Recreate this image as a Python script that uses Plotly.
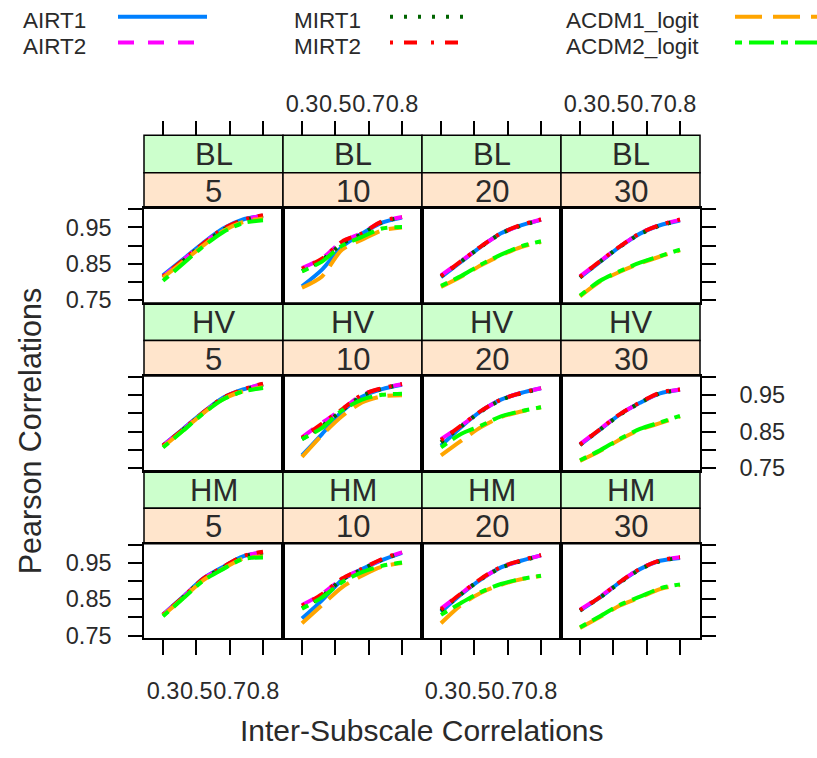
import plotly.graph_objects as go

# ---------------- data ----------------
x_corr = [0.3, 0.4, 0.5, 0.6, 0.7, 0.8]
series_names = ["AIRT1", "AIRT2", "MIRT1", "MIRT2", "ACDM1_logit", "ACDM2_logit"]
methods = ["BL", "HV", "HM"]
lengths = ["5", "10", "20", "30"]
x_tick_labels = ["0.3", "0.5", "0.7", "0.8"]
y_tick_vals = [0.75, 0.80, 0.85, 0.90, 0.95, 1.00]
y_tick_labels = ["0.75", "", "0.85", "", "0.95", ""]

BL_5 = [[0.818, 0.862, 0.907, 0.947, 0.972, 0.982],
        [0.815, 0.860, 0.905, 0.945, 0.970, 0.983],
        [0.812, 0.858, 0.903, 0.944, 0.969, 0.981],
        [0.815, 0.860, 0.905, 0.946, 0.971, 0.984],
        [0.812, 0.855, 0.900, 0.940, 0.965, 0.975],
        [0.803, 0.850, 0.897, 0.937, 0.962, 0.970]]
BL_10 = [[0.788, 0.834, 0.897, 0.933, 0.963, 0.977],
         [0.838, 0.865, 0.911, 0.935, 0.966, 0.979],
         [0.830, 0.860, 0.905, 0.932, 0.964, 0.978],
         [0.836, 0.864, 0.911, 0.934, 0.967, 0.979],
         [0.784, 0.815, 0.889, 0.916, 0.942, 0.950],
         [0.829, 0.856, 0.900, 0.924, 0.947, 0.951]]
BL_20 = [[0.813, 0.855, 0.897, 0.934, 0.956, 0.971],
         [0.818, 0.857, 0.898, 0.933, 0.956, 0.972],
         [0.815, 0.856, 0.897, 0.933, 0.955, 0.970],
         [0.816, 0.857, 0.898, 0.934, 0.957, 0.972],
         [0.786, 0.814, 0.846, 0.873, 0.896, 0.910],
         [0.789, 0.816, 0.848, 0.875, 0.898, 0.912]]
BL_30 = [[0.812, 0.855, 0.897, 0.933, 0.956, 0.969],
         [0.815, 0.857, 0.898, 0.934, 0.957, 0.971],
         [0.812, 0.856, 0.897, 0.932, 0.955, 0.969],
         [0.814, 0.857, 0.898, 0.934, 0.957, 0.972],
         [0.760, 0.801, 0.828, 0.851, 0.870, 0.887],
         [0.762, 0.803, 0.830, 0.853, 0.871, 0.889]]
HV_5 = [[0.812, 0.857, 0.903, 0.943, 0.966, 0.980],
        [0.811, 0.856, 0.902, 0.942, 0.965, 0.981],
        [0.810, 0.855, 0.901, 0.941, 0.964, 0.979],
        [0.811, 0.856, 0.902, 0.943, 0.966, 0.982],
        [0.808, 0.853, 0.900, 0.939, 0.961, 0.972],
        [0.806, 0.852, 0.899, 0.938, 0.960, 0.970]]
HV_10 = [[0.784, 0.843, 0.905, 0.946, 0.967, 0.979],
         [0.834, 0.874, 0.911, 0.951, 0.969, 0.980],
         [0.829, 0.865, 0.908, 0.948, 0.968, 0.979],
         [0.832, 0.872, 0.911, 0.951, 0.969, 0.981],
         [0.780, 0.840, 0.892, 0.930, 0.947, 0.950],
         [0.829, 0.860, 0.908, 0.938, 0.951, 0.954]]
HV_20 = [[0.811, 0.862, 0.906, 0.938, 0.956, 0.969],
         [0.829, 0.866, 0.906, 0.938, 0.956, 0.969],
         [0.820, 0.864, 0.905, 0.937, 0.955, 0.968],
         [0.826, 0.866, 0.907, 0.938, 0.956, 0.970],
         [0.784, 0.824, 0.862, 0.890, 0.905, 0.917],
         [0.806, 0.843, 0.866, 0.892, 0.906, 0.917]]
HV_30 = [[0.813, 0.855, 0.897, 0.929, 0.955, 0.965],
         [0.815, 0.857, 0.898, 0.930, 0.956, 0.966],
         [0.813, 0.855, 0.896, 0.929, 0.955, 0.964],
         [0.814, 0.856, 0.898, 0.930, 0.957, 0.966],
         [0.769, 0.796, 0.828, 0.855, 0.873, 0.891],
         [0.771, 0.798, 0.830, 0.857, 0.875, 0.893]]
HM_5 = [[0.808, 0.857, 0.907, 0.939, 0.968, 0.979],
        [0.807, 0.856, 0.906, 0.938, 0.968, 0.980],
        [0.806, 0.855, 0.905, 0.937, 0.967, 0.978],
        [0.807, 0.856, 0.906, 0.939, 0.969, 0.981],
        [0.805, 0.853, 0.902, 0.934, 0.962, 0.968],
        [0.803, 0.852, 0.901, 0.933, 0.961, 0.965]]
HM_10 = [[0.797, 0.847, 0.903, 0.933, 0.958, 0.978],
         [0.834, 0.865, 0.906, 0.933, 0.960, 0.979],
         [0.826, 0.858, 0.904, 0.932, 0.959, 0.978],
         [0.832, 0.864, 0.907, 0.934, 0.961, 0.980],
         [0.784, 0.834, 0.883, 0.915, 0.940, 0.950],
         [0.824, 0.855, 0.897, 0.925, 0.942, 0.951]]
HM_20 = [[0.815, 0.863, 0.905, 0.938, 0.956, 0.971],
         [0.824, 0.866, 0.906, 0.938, 0.956, 0.971],
         [0.818, 0.864, 0.905, 0.937, 0.955, 0.970],
         [0.822, 0.866, 0.907, 0.939, 0.957, 0.972],
         [0.784, 0.834, 0.868, 0.890, 0.905, 0.914],
         [0.807, 0.840, 0.870, 0.892, 0.906, 0.915]]
HM_30 = [[0.819, 0.855, 0.897, 0.933, 0.956, 0.964],
         [0.821, 0.857, 0.898, 0.934, 0.957, 0.966],
         [0.819, 0.855, 0.896, 0.932, 0.955, 0.964],
         [0.820, 0.856, 0.898, 0.934, 0.957, 0.966],
         [0.771, 0.801, 0.833, 0.855, 0.878, 0.889],
         [0.773, 0.803, 0.835, 0.857, 0.880, 0.891]]

panels = [[BL_5, BL_10, BL_20, BL_30],
          [HV_5, HV_10, HV_20, HV_30],
          [HM_5, HM_10, HM_20, HM_30]]

# ---------------- styles ----------------
colors = ["#0080FF", "#FF00FF", "#006400", "#FF0000", "#FFA500", "#00FF00"]
dashes = ["solid", "14px,12px", "3px,10px", "3px,9px,13px,9px", "26px,10px", "7px,7px,24px,7px"]
leg_dashes = ["solid", "16px,14px", "3px,11px", "3px,11px,13px,14px", "27px,11px", "7px,7px,25px,7px"]

W, H = 817, 758
FONT = "Liberation Sans, Arial, sans-serif"
TXT = "#2a2a2a"
TICK_SIZE = 23.5
STRIP_SIZE = 31
TITLE_SIZE = 30.5
KEY_SIZE = 22.5


def px(v):
    return v / W


def py(v):
    return 1 - v / H


col_edges = [(144, 283), (283, 422), (422, 561), (561, 700)]
row_top = [137 + 170 * r for r in range(3)]
STRIP1, STRIP2, ROWH = 38, 74, 170
XR = [0.205, 0.9]
YR = [0.742, 1.003]
x_tick_vals = [0.3, 0.3 + 0.5 / 3, 0.3 + 1.0 / 3, 0.8]

fig = go.Figure()
layout = dict(width=W, height=H, margin=dict(l=0, r=0, t=0, b=0),
              paper_bgcolor="white", plot_bgcolor="white", showlegend=False,
              font=dict(family=FONT, color=TXT))
shapes, annotations = [], []

for r in range(3):
    for c in range(4):
        k = r * 4 + c + 1
        xs = "" if k == 1 else str(k)
        x0, x1 = col_edges[c]
        top = row_top[r]
        for s in range(6):
            fig.add_trace(go.Scatter(x=x_corr, y=panels[r][c][s], mode="lines",
                                     line=dict(color=colors[s], width=4, dash=dashes[s],
                                               shape="spline", smoothing=0.8),
                                     xaxis="x" + xs, yaxis="y" + xs, name=series_names[s]))
        xa = dict(domain=[px(x0), px(x1)], anchor="y" + xs, range=XR, showgrid=False,
                  zeroline=False, showline=True, mirror=True, linecolor="black", linewidth=1.5,
                  tickvals=x_tick_vals, ticktext=x_tick_labels, tickangle=0,
                  tickfont=dict(size=TICK_SIZE, family=FONT, color=TXT))
        if r == 2:
            xa.update(ticks="outside", ticklen=15, tickwidth=1.5, tickcolor="black",
                      showticklabels=(c % 2 == 0), ticklabelstandoff=16)
        else:
            xa.update(ticks="", showticklabels=False)
        ya = dict(domain=[py(top + ROWH), py(top + STRIP2)], anchor="x" + xs, range=YR,
                  showgrid=False, zeroline=False, showline=True, mirror=True,
                  linecolor="black", linewidth=1.5, tickvals=y_tick_vals, ticktext=y_tick_labels,
                  tickfont=dict(size=TICK_SIZE, family=FONT, color=TXT))
        if c == 0:
            # left axis: ticks on every row, labels on rows 1 and 3
            ya.update(ticks="outside", ticklen=14, tickwidth=1.5, tickcolor="black",
                      showticklabels=(r != 1), ticklabelstandoff=12)
        elif c == 3:
            # right axis: ticks on every row, labels on row 2
            ya.update(side="right", ticks="outside", ticklen=14, tickwidth=1.5,
                      tickcolor="black", showticklabels=(r == 1), ticklabelstandoff=19)
        else:
            ya.update(ticks="", showticklabels=False)
        layout["xaxis" + xs] = xa
        layout["yaxis" + xs] = ya

        # strips
        shapes.append(dict(type="rect", xref="paper", yref="paper", x0=px(x0), x1=px(x1),
                           y0=py(top + STRIP1), y1=py(top), fillcolor="#CCFFCC",
                           line=dict(color="black", width=1.5), layer="below"))
        shapes.append(dict(type="rect", xref="paper", yref="paper", x0=px(x0), x1=px(x1),
                           y0=py(top + STRIP2), y1=py(top + STRIP1), fillcolor="#FFE5CC",
                           line=dict(color="black", width=1.5), layer="below"))
        annotations.append(dict(xref="paper", yref="paper", x=px((x0 + x1) / 2),
                                y=py(top + STRIP1 / 2 + 1), text=methods[r], showarrow=False,
                                font=dict(size=STRIP_SIZE, family=FONT, color=TXT),
                                xanchor="center", yanchor="middle"))
        annotations.append(dict(xref="paper", yref="paper", x=px((x0 + x1) / 2),
                                y=py(top + (STRIP1 + STRIP2) / 2 + 1), text=lengths[c],
                                showarrow=False, font=dict(size=STRIP_SIZE, family=FONT, color=TXT),
                                xanchor="center", yanchor="middle"))

# top x ticks (above first-row strips)
for c in range(4):
    n = 16 + c
    base = "x" if c == 0 else "x" + str(c + 1)
    ybase = "y" if c == 0 else "y" + str(c + 1)
    layout["xaxis" + str(n)] = dict(overlaying=base, anchor="free", position=py(row_top[0]),
                                    side="top", range=XR, showgrid=False, zeroline=False,
                                    showline=False, tickvals=x_tick_vals, ticktext=x_tick_labels,
                                    tickangle=0,
                                    ticks="outside", ticklen=14, tickwidth=1.5, tickcolor="black",
                                    showticklabels=(c % 2 == 1), ticklabelstandoff=0,
                                    tickfont=dict(size=TICK_SIZE, family=FONT, color=TXT))
    fig.add_trace(go.Scatter(x=[None], y=[None], mode="lines", xaxis="x" + str(n),
                             yaxis=ybase, hoverinfo="skip", showlegend=False))

# axis titles
annotations.append(dict(xref="paper", yref="paper", x=px(30), y=py(437), text="Pearson Correlations",
                        textangle=-90, showarrow=False,
                        font=dict(size=TITLE_SIZE, family=FONT, color=TXT),
                        xanchor="center", yanchor="middle"))
annotations.append(dict(xref="paper", yref="paper", x=px(422), y=py(740),
                        text="Inter-Subscale Correlations", showarrow=False,
                        font=dict(size=30, family=FONT, color=TXT),
                        xanchor="center", yanchor="middle"))

# key (top legend)
key_text_x = [21, 292, 564]
key_line_x = [(118, 207), (390, 472), (735, 835)]
key_text_y = [21, 47]
key_line_y = [17, 43]
for s, name in enumerate(series_names):
    col, row = s // 2, s % 2
    annotations.append(dict(xref="paper", yref="paper", x=px(key_text_x[col]), y=py(key_text_y[row]),
                            text=name, showarrow=False, xanchor="left", yanchor="middle",
                            font=dict(size=KEY_SIZE, family=FONT, color=TXT)))
    lx0, lx1 = key_line_x[col]
    shapes.append(dict(type="line", xref="paper", yref="paper", x0=px(lx0), x1=px(lx1),
                       y0=py(key_line_y[row]), y1=py(key_line_y[row]),
                       line=dict(color=colors[s], width=4, dash=leg_dashes[s])))

layout["shapes"] = shapes
layout["annotations"] = annotations
fig.update_layout(**layout)
fig.write_html("out.html")
